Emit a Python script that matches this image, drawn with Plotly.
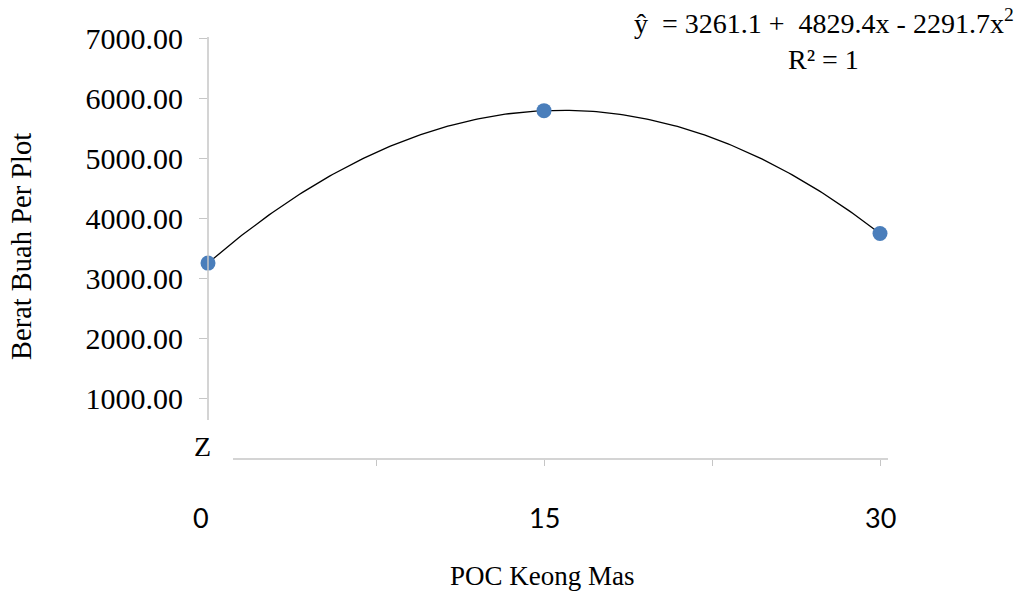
import numpy as np
import plotly.graph_objects as go

# Data
x_dose = [0, 15, 30]                 # POC Keong Mas
x_code = [0, 1, 2]                   # coded levels used in the regression
y_vals = [3261.1, 5798.8, 3753.1]    # Berat Buah Per Plot
y_ticks = [1000, 2000, 3000, 4000, 5000, 6000, 7000]
y_ticktext = ["1000.00", "2000.00", "3000.00", "4000.00", "5000.00", "6000.00", "7000.00"]
x_labels = ["0", "15", "30"]
x_minor_ticks = [7.5, 15, 22.5, 30]
equation = "ŷ  = 3261.1 +  4829.4x - 2291.7x<sup>2</sup>"
r2_text = "R² = 1"

# Quadratic trendline fitted from the data
coef = np.polyfit(x_code, y_vals, 2)
xc = np.linspace(0, 2, 200)
yc = np.polyval(coef, xc)
xd = xc * 15

W, H = 1020, 594
L, R, T, B = 208, 888, 37, 459

def px(xp):
    return (xp - L) / (R - L)

def py(yp):
    return (B - yp) / (B - T)

SERIF = "Liberation Serif, Times New Roman, serif"
SANS = "Lato, Open Sans, sans-serif"
AX = "#c6c6c6"

fig = go.Figure()
fig.add_trace(go.Scatter(x=xd, y=yc, mode="lines",
                         line=dict(color="black", width=1.3),
                         hoverinfo="skip", showlegend=False))
fig.add_trace(go.Scatter(x=x_dose, y=y_vals, mode="markers",
                         marker=dict(color="#4a7ebb", size=15),
                         cliponaxis=False, showlegend=False))

fig.update_layout(
    width=W, height=H,
    margin=dict(l=L, r=W - R, t=T, b=H - B),
    plot_bgcolor="white", paper_bgcolor="white",
    xaxis=dict(range=[0, 30 * (R - L) / (880 - L)], showgrid=False, zeroline=False,
               showline=False, tickvals=x_minor_ticks, showticklabels=False,
               ticks="outside", ticklen=6, tickcolor=AX, tickwidth=1.3),
    yaxis=dict(range=[0, 7025], showgrid=False, zeroline=False, showline=False,
               tickvals=y_ticks, ticktext=y_ticktext, ticks="outside",
               ticklen=8, tickcolor=AX, tickwidth=1.3, ticklabelstandoff=10,
               tickfont=dict(family=SERIF, size=30, color="black")),
    shapes=[
        dict(type="line", xref="paper", yref="paper", x0=0, x1=0,
             y0=py(420), y1=1, line=dict(color=AX, width=1.5)),
        dict(type="line", xref="paper", yref="paper", x0=px(233), x1=1,
             y0=0, y1=0, line=dict(color=AX, width=1.5)),
    ],
)

ann = []
for xv, lab, shift in zip(x_dose, x_labels, [-7, 0, 0]):
    ann.append(dict(x=xv, y=py(517), xref="x", yref="paper", text=lab, showarrow=False,
                    xshift=shift, xanchor="center", yanchor="middle",
                    font=dict(family=SANS, size=27, color="black")))
ann.append(dict(x=px(202), y=py(446), xref="paper", yref="paper", text="Z", showarrow=False,
                xanchor="center", yanchor="middle",
                font=dict(family=SERIF, size=28, color="black")))
ann.append(dict(x=px(1016), y=py(22), xref="paper", yref="paper", text=equation,
                showarrow=False, xanchor="right", yanchor="middle",
                font=dict(family=SERIF, size=28, color="black")))
ann.append(dict(x=px(823), y=py(60), xref="paper", yref="paper", text=r2_text,
                showarrow=False, xanchor="center", yanchor="middle",
                font=dict(family=SERIF, size=28, color="black")))
ann.append(dict(x=px(542), y=py(576), xref="paper", yref="paper", text="POC Keong Mas",
                showarrow=False, xanchor="center", yanchor="middle",
                font=dict(family=SERIF, size=27, color="black")))
ann.append(dict(x=px(22), y=py(246), xref="paper", yref="paper", text="Berat Buah Per Plot",
                showarrow=False, xanchor="center", yanchor="middle", textangle=-90,
                font=dict(family=SERIF, size=28.5, color="black")))
fig.update_layout(annotations=ann)

fig.write_html("out.html")
